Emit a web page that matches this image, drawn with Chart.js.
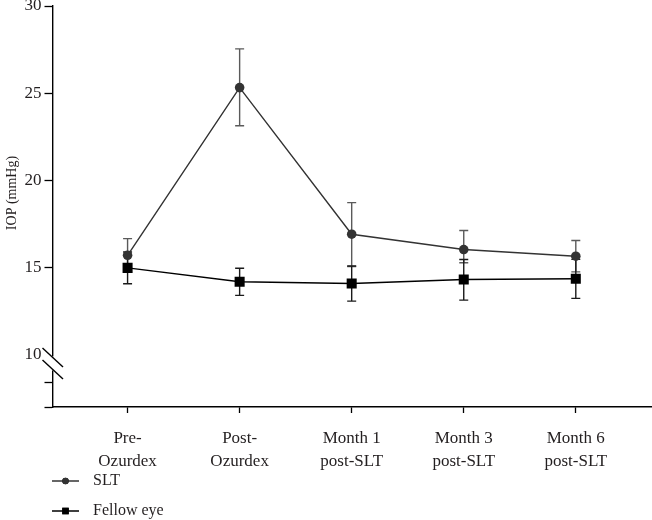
<!DOCTYPE html>
<html>
<head>
<meta charset="utf-8">
<script src="https://cdn.jsdelivr.net/npm/chart.js@4.4.1/dist/chart.umd.min.js"></script>
<style>
  html, body { margin: 0; padding: 0; background: #ffffff; }
  #c { display: block; }
</style>
</head>
<body>
<canvas id="c" width="652" height="520" style="width:652px;height:520px"></canvas>
<script>
// ---- data ----
const categories = [['Pre-', 'Ozurdex'], ['Post-', 'Ozurdex'], ['Month 1', 'post-SLT'], ['Month 3', 'post-SLT'], ['Month 6', 'post-SLT']];
const seriesNames = ['SLT', 'Fellow eye'];
const sltMean = [15.70, 25.32, 16.91, 16.03, 15.65];
const sltLow = [14.74, 23.13, 15.06, 15.27, 14.75];
const sltHigh = [16.66, 27.54, 18.72, 17.12, 16.55];
const fellowMean = [14.98, 14.18, 14.08, 14.31, 14.35];
const fellowLow = [14.07, 13.40, 13.07, 13.13, 13.23];
const fellowHigh = [15.89, 14.96, 15.09, 15.46, 15.47];
const yTickValues = [7.0, 8.4, 10, 15, 20, 25, 30];
const yTickLabels = ['', '', '10', '15', '20', '25', '30'];
const yTitle = 'IOP (mmHg)';

const FONT = "'Liberation Serif', 'Times New Roman', serif";
const TEXT = '#231f20';

const toXY = arr => arr.map((v, i) => ({ x: i, y: v }));

const errorBars = {
  id: 'errorBars',
  beforeDatasetsDraw(chart) {
    const { ctx } = chart;
    const ys = chart.scales.y, xs = chart.scales.x;
    chart.data.datasets.forEach(ds => {
      ctx.save();
      ctx.strokeStyle = ds.errColor;
      ctx.lineWidth = 1.4;
      ds.errLow.forEach((lo, i) => {
        const x = xs.getPixelForValue(i);
        const y1 = ys.getPixelForValue(lo);
        const y2 = ys.getPixelForValue(ds.errHigh[i]);
        ctx.beginPath();
        ctx.moveTo(x, y1); ctx.lineTo(x, y2);
        ctx.moveTo(x - 4.5, y1); ctx.lineTo(x + 4.5, y1);
        ctx.moveTo(x - 4.5, y2); ctx.lineTo(x + 4.5, y2);
        ctx.stroke();
      });
      ctx.restore();
    });
  }
};

const decorations = {
  id: 'decorations',
  afterDraw(chart) {
    const { ctx, chartArea } = chart;
    const ys = chart.scales.y;
    const ax = chartArea.left;
    // axis break marks
    const yc = ys.getPixelForValue(9.5);
    ctx.save();
    ctx.fillStyle = '#ffffff';
    ctx.fillRect(ax - 2, yc - 7, 4, 14);
    ctx.strokeStyle = '#000000';
    ctx.lineWidth = 1.4;
    [-6, 6].forEach(off => {
      ctx.beginPath();
      ctx.moveTo(ax - 10, yc + off - 9.5);
      ctx.lineTo(ax + 10.5, yc + off + 9.5);
      ctx.stroke();
    });
    ctx.restore();
    // y-axis title
    ctx.save();
    ctx.translate(12, 193);
    ctx.rotate(-Math.PI / 2);
    ctx.font = '14px ' + FONT;
    ctx.fillStyle = TEXT;
    ctx.textAlign = 'center';
    ctx.textBaseline = 'middle';
    ctx.fillText(yTitle, 0, 0);
    ctx.restore();
    // legend
    chart.data.datasets.forEach((ds, i) => {
      const y = 481 + i * 30;
      ctx.save();
      ctx.strokeStyle = ds.borderColor;
      ctx.lineWidth = 1.5;
      ctx.beginPath();
      ctx.moveTo(52, y); ctx.lineTo(79, y);
      ctx.stroke();
      Chart.helpers.drawPoint(ctx, {
        pointStyle: ds.pointStyle,
        radius: ds.pointStyle === 'rect' ? 4.6 : 3.2,
        borderWidth: 0
      }, 65.5, y);
      ctx.fillStyle = ds.pointBackgroundColor;
      ctx.fill();
      ctx.font = '16px ' + FONT;
      ctx.fillStyle = TEXT;
      ctx.textAlign = 'left';
      ctx.textBaseline = 'middle';
      ctx.fillText(ds.label, 93, y);
      ctx.restore();
    });
  }
};

new Chart(document.getElementById('c'), {
  type: 'line',
  data: {
    datasets: [
      {
        label: seriesNames[0],
        data: toXY(sltMean),
        errLow: sltLow, errHigh: sltHigh, errColor: '#5a5a5a',
        borderColor: '#333333', borderWidth: 1.4,
        pointStyle: 'circle', pointRadius: 4.8,
        pointBackgroundColor: '#333333', pointBorderColor: '#333333', pointBorderWidth: 0,
        tension: 0, order: 1
      },
      {
        label: seriesNames[1],
        data: toXY(fellowMean),
        errLow: fellowLow, errHigh: fellowHigh, errColor: '#1a1a1a',
        borderColor: '#000000', borderWidth: 1.5,
        pointStyle: 'rect', pointRadius: 7.1,
        pointBackgroundColor: '#000000', pointBorderColor: '#000000', pointBorderWidth: 0,
        tension: 0, order: 2
      }
    ]
  },
  options: {
    responsive: false,
    animation: false,
    devicePixelRatio: 1,
    layout: { autoPadding: false, padding: { top: 6, right: 0, bottom: 48, left: 0 } },
    plugins: { legend: { display: false }, tooltip: { enabled: false } },
    scales: {
      x: {
        type: 'linear',
        min: -0.67, max: 4.68,
        afterFit: s => { s.height = 65; s.paddingLeft = 0; s.paddingRight = 0; },
        afterBuildTicks: s => { s.ticks = categories.map((c, i) => ({ value: i })); },
        grid: { drawOnChartArea: false, drawTicks: true, tickLength: 6, tickColor: '#000', tickWidth: 1.3 },
        border: { color: '#000', width: 1.4 },
        ticks: {
          autoSkip: false, maxRotation: 0, padding: 14,
          color: TEXT,
          font: { family: FONT, size: 17, lineHeight: 1.36 },
          callback: v => categories[v] || ''
        }
      },
      y: {
        type: 'linear',
        min: 7.0, max: 30,
        afterFit: s => { s.width = 52.5; s.paddingTop = 0; s.paddingBottom = 0; s.paddingLeft = 0; s.paddingRight = 0; },
        afterBuildTicks: s => { s.ticks = yTickValues.map(v => ({ value: v })); },
        grid: {
          drawOnChartArea: false, drawTicks: true, tickLength: 8, tickWidth: 1.3,
          tickColor: c => (c.tick && c.tick.value === 10) ? 'rgba(0,0,0,0)' : '#000'
        },
        border: { color: '#000', width: 1.4 },
        ticks: {
          padding: 3, color: TEXT,
          font: { family: FONT, size: 17, lineHeight: 0.75 },
          callback: v => { const k = yTickValues.indexOf(v); return k >= 0 ? yTickLabels[k] : ''; }
        }
      }
    }
  },
  plugins: [errorBars, decorations]
});
</script>
</body>
</html>
